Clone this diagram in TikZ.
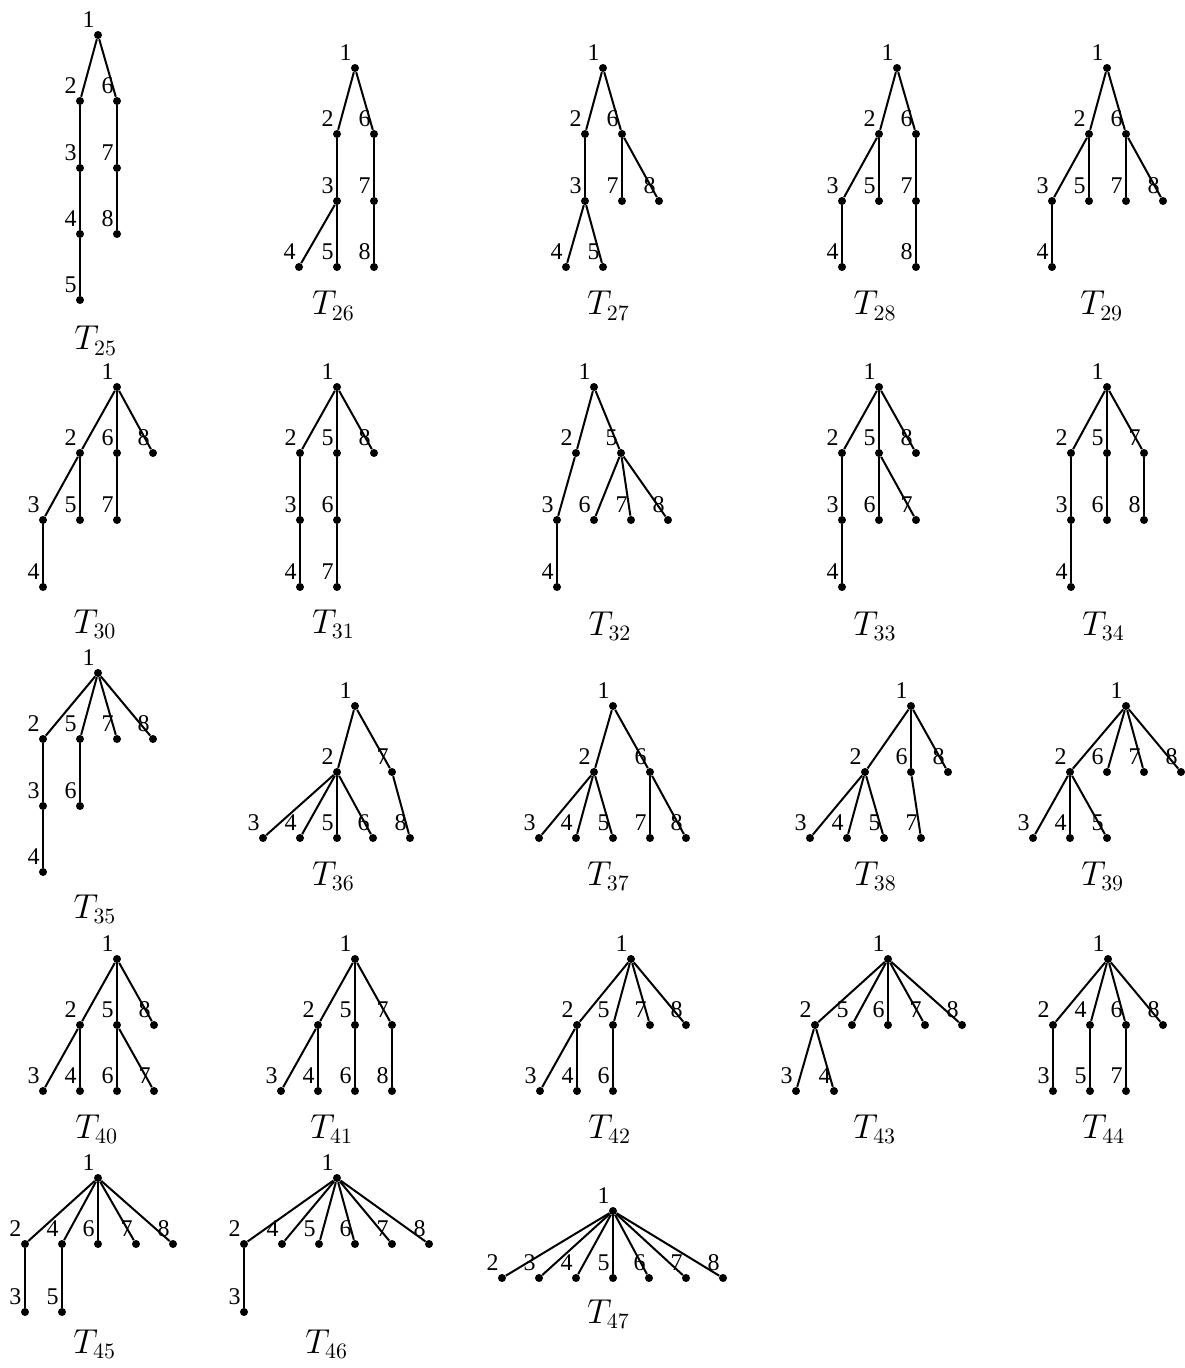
\documentclass[tikz,border=0pt]{standalone}
\usepackage{fontspec}
\setmainfont{Liberation Serif}
\tikzset{
  x=0.5pt, y=-0.5pt,
  dot/.style={circle, fill=black, inner sep=0pt, minimum size=4pt},
  lbl/.style={inner sep=0pt, font=\fontsize{12}{14}\selectfont},
  tlab/.style={inner sep=0pt, anchor=base west, font=\fontsize{16}{19}\selectfont},
  edge/.style={line width=1pt}
}
\newcommand\V[4]{\node[dot] (#1) at (#2,#3) {};
  \node[lbl] (#1l) at ([shift={(-9.5,-15.5)}]#1.center) {#4};}
\newcommand\E[2]{\draw[edge] (#1) -- (#2);}
\begin{document}
\begin{tikzpicture}
\useasboundingbox (0,0) rectangle (1184,1368);
% ---------- T25
\V{a1}{98}{35}{1}\V{a2}{80}{101}{2}\V{a6}{117}{101}{6}\V{a3}{80}{168}{3}
\V{a7}{117}{168}{7}\V{a4}{80}{234}{4}\V{a8}{117}{234}{8}\V{a5}{80}{300}{5}
\E{a1}{a2}\E{a1}{a6}\E{a2}{a3}\E{a3}{a4}\E{a4}{a5}\E{a6}{a7}\E{a7}{a8}
\node[tlab] (la) at (74,350) {$T_{25}$};
% ---------- T26
\V{b1}{355}{68}{1}\V{b2}{337}{134}{2}\V{b6}{374}{134}{6}\V{b3}{337}{201}{3}
\V{b7}{374}{201}{7}\V{b4}{299}{267}{4}\V{b5}{337}{267}{5}\V{b8}{374}{267}{8}
\E{b1}{b2}\E{b1}{b6}\E{b2}{b3}\E{b3}{b4}\E{b3}{b5}\E{b6}{b7}\E{b7}{b8}
\node[tlab] (lb) at (311.7,315) {$T_{26}$};
% ---------- T27
\V{c1}{603}{68}{1}\V{c2}{585}{134}{2}\V{c6}{622}{134}{6}\V{c3}{585}{201}{3}
\V{c7}{622}{201}{7}\V{c8}{659}{201}{8}\V{c4}{566}{267}{4}\V{c5}{603}{267}{5}
\E{c1}{c2}\E{c1}{c6}\E{c2}{c3}\E{c3}{c4}\E{c3}{c5}\E{c6}{c7}\E{c6}{c8}
\node[tlab] (lc) at (586.7,315) {$T_{27}$};
% ---------- T28
\V{d1}{897}{68}{1}\V{d2}{879}{134}{2}\V{d6}{916}{134}{6}\V{d3}{842}{201}{3}
\V{d5}{879}{201}{5}\V{d7}{916}{201}{7}\V{d4}{842}{267}{4}\V{d8}{916}{267}{8}
\E{d1}{d2}\E{d1}{d6}\E{d2}{d3}\E{d2}{d5}\E{d3}{d4}\E{d6}{d7}\E{d7}{d8}
\node[tlab] (ld) at (853.3,315) {$T_{28}$};
% ---------- T29
\V{e1}{1107}{68}{1}\V{e2}{1089}{134}{2}\V{e6}{1126}{134}{6}\V{e3}{1052}{201}{3}
\V{e5}{1089}{201}{5}\V{e7}{1126}{201}{7}\V{e8}{1163}{201}{8}\V{e4}{1052}{267}{4}
\E{e1}{e2}\E{e1}{e6}\E{e2}{e3}\E{e2}{e5}\E{e3}{e4}\E{e6}{e7}\E{e6}{e8}
\node[tlab] (le) at (1080,315) {$T_{29}$};
% ---------- T30
\V{f1}{117}{387}{1}\V{f2}{80}{453}{2}\V{f6}{117}{453}{6}\V{f8}{153}{453}{8}
\V{f3}{43}{520}{3}\V{f5}{80}{520}{5}\V{f7}{117}{520}{7}\V{f4}{43}{587}{4}
\E{f1}{f2}\E{f1}{f6}\E{f1}{f8}\E{f2}{f3}\E{f2}{f5}\E{f3}{f4}\E{f6}{f7}
\node[tlab] (lf) at (73.3,633) {$T_{30}$};
% ---------- T31
\V{g1}{337}{387}{1}\V{g2}{300}{453}{2}\V{g5}{337}{453}{5}\V{g8}{374}{453}{8}
\V{g3}{300}{520}{3}\V{g6}{337}{520}{6}\V{g4}{300}{587}{4}\V{g7}{337}{587}{7}
\E{g1}{g2}\E{g1}{g5}\E{g1}{g8}\E{g2}{g3}\E{g3}{g4}\E{g5}{g6}\E{g6}{g7}
\node[tlab] (lg) at (311.7,633) {$T_{31}$};
% ---------- T32
\V{h1}{594}{387}{1}\V{h2}{576}{453}{2}\V{h5}{621}{453}{5}\V{h3}{557}{520}{3}
\V{h6}{594}{520}{6}\V{h7}{631}{520}{7}\V{h8}{668}{520}{8}\V{h4}{557}{587}{4}
\E{h1}{h2}\E{h1}{h5}\E{h2}{h3}\E{h3}{h4}\E{h5}{h6}\E{h5}{h7}\E{h5}{h8}
\node[tlab] (lh) at (588.3,635) {$T_{32}$};
% ---------- T33
\V{i1}{879}{387}{1}\V{i2}{842}{453}{2}\V{i5}{879}{453}{5}\V{i8}{916}{453}{8}
\V{i3}{842}{520}{3}\V{i6}{879}{520}{6}\V{i7}{916}{520}{7}\V{i4}{842}{587}{4}
\E{i1}{i2}\E{i1}{i5}\E{i1}{i8}\E{i2}{i3}\E{i3}{i4}\E{i5}{i6}\E{i5}{i7}
\node[tlab] (li) at (853.3,635) {$T_{33}$};
% ---------- T34
\V{j1}{1107}{387}{1}\V{j2}{1071}{453}{2}\V{j5}{1107}{453}{5}\V{j7}{1144}{453}{7}
\V{j3}{1071}{520}{3}\V{j6}{1107}{520}{6}\V{j8}{1144}{520}{8}\V{j4}{1071}{587}{4}
\E{j1}{j2}\E{j1}{j5}\E{j1}{j7}\E{j2}{j3}\E{j3}{j4}\E{j5}{j6}\E{j7}{j8}
\node[tlab] (lj) at (1081.7,635) {$T_{34}$};
% ---------- T35
\V{k1}{98}{673}{1}\V{k2}{43}{739}{2}\V{k5}{80}{739}{5}\V{k7}{117}{739}{7}
\V{k8}{153}{739}{8}\V{k3}{43}{806}{3}\V{k6}{80}{806}{6}\V{k4}{43}{872}{4}
\E{k1}{k2}\E{k1}{k5}\E{k1}{k7}\E{k1}{k8}\E{k2}{k3}\E{k3}{k4}\E{k5}{k6}
\node[tlab] (lk) at (73.3,918) {$T_{35}$};
% ---------- T36
\V{l1}{355}{706}{1}\V{l2}{337}{772}{2}\V{l7}{392}{772}{7}\V{l3}{263}{838}{3}
\V{l4}{300}{838}{4}\V{l5}{337}{838}{5}\V{l6}{373}{838}{6}\V{l8}{410}{838}{8}
\E{l1}{l2}\E{l1}{l7}\E{l2}{l3}\E{l2}{l4}\E{l2}{l5}\E{l2}{l6}\E{l7}{l8}
\node[tlab] (ll) at (311.7,885) {$T_{36}$};
% ---------- T37
\V{m1}{613}{706}{1}\V{m2}{594}{772}{2}\V{m6}{650}{772}{6}\V{m3}{539}{838}{3}
\V{m4}{576}{838}{4}\V{m5}{613}{838}{5}\V{m7}{650}{838}{7}\V{m8}{686}{838}{8}
\E{m1}{m2}\E{m1}{m6}\E{m2}{m3}\E{m2}{m4}\E{m2}{m5}\E{m6}{m7}\E{m6}{m8}
\node[tlab] (lm) at (586.7,885) {$T_{37}$};
% ---------- T38
\V{n1}{911}{706}{1}\V{n2}{865}{772}{2}\V{n6}{911}{772}{6}\V{n8}{948}{772}{8}
\V{n3}{810}{838}{3}\V{n4}{847}{838}{4}\V{n5}{884}{838}{5}\V{n7}{921}{838}{7}
\E{n1}{n2}\E{n1}{n6}\E{n1}{n8}\E{n2}{n3}\E{n2}{n4}\E{n2}{n5}\E{n6}{n7}
\node[tlab] (ln) at (853.6,885) {$T_{38}$};
% ---------- T39
\V{o1}{1126}{706}{1}\V{o2}{1070}{772}{2}\V{o6}{1107}{772}{6}\V{o7}{1144}{772}{7}
\V{o8}{1181}{772}{8}\V{o3}{1033}{838}{3}\V{o4}{1070}{838}{4}\V{o5}{1107}{838}{5}
\E{o1}{o2}\E{o1}{o6}\E{o1}{o7}\E{o1}{o8}\E{o2}{o3}\E{o2}{o4}\E{o2}{o5}
\node[tlab] (lo) at (1081,885) {$T_{39}$};
% ---------- T40
\V{p1}{117}{959}{1}\V{p2}{80}{1025}{2}\V{p5}{117}{1025}{5}\V{p8}{154}{1025}{8}
\V{p3}{43}{1091}{3}\V{p4}{80}{1091}{4}\V{p6}{117}{1091}{6}\V{p7}{154}{1091}{7}
\E{p1}{p2}\E{p1}{p5}\E{p1}{p8}\E{p2}{p3}\E{p2}{p4}\E{p5}{p6}\E{p5}{p7}
\node[tlab] (lp) at (75,1138) {$T_{40}$};
% ---------- T41
\V{q1}{355}{959}{1}\V{q2}{318}{1025}{2}\V{q5}{355}{1025}{5}\V{q7}{392}{1025}{7}
\V{q3}{281}{1091}{3}\V{q4}{318}{1091}{4}\V{q6}{355}{1091}{6}\V{q8}{392}{1091}{8}
\E{q1}{q2}\E{q1}{q5}\E{q1}{q7}\E{q2}{q3}\E{q2}{q4}\E{q5}{q6}\E{q7}{q8}
\node[tlab] (lq) at (310,1138) {$T_{41}$};
% ---------- T42
\V{r1}{631}{959}{1}\V{r2}{577}{1025}{2}\V{r5}{613}{1025}{5}\V{r7}{650}{1025}{7}
\V{r8}{686}{1025}{8}\V{r3}{540}{1091}{3}\V{r4}{577}{1091}{4}\V{r6}{613}{1091}{6}
\E{r1}{r2}\E{r1}{r5}\E{r1}{r7}\E{r1}{r8}\E{r2}{r3}\E{r2}{r4}\E{r5}{r6}
\node[tlab] (lr) at (588,1138) {$T_{42}$};
% ---------- T43
\V{s1}{888}{959}{1}\V{s2}{815}{1025}{2}\V{s5}{852}{1025}{5}\V{s6}{888}{1025}{6}
\V{s7}{925}{1025}{7}\V{s8}{962}{1025}{8}\V{s3}{796}{1091}{3}\V{s4}{834}{1091}{4}
\E{s1}{s2}\E{s1}{s5}\E{s1}{s6}\E{s1}{s7}\E{s1}{s8}\E{s2}{s3}\E{s2}{s4}
\node[tlab] (ls) at (853,1138) {$T_{43}$};
% ---------- T44
\V{u1}{1108}{959}{1}\V{u2}{1053}{1025}{2}\V{u4}{1090}{1025}{4}\V{u6}{1126}{1025}{6}
\V{u8}{1163}{1025}{8}\V{u3}{1053}{1091}{3}\V{u5}{1090}{1091}{5}\V{u7}{1126}{1091}{7}
\E{u1}{u2}\E{u1}{u4}\E{u1}{u6}\E{u1}{u8}\E{u2}{u3}\E{u4}{u5}\E{u6}{u7}
\node[tlab] (lu) at (1082,1138) {$T_{44}$};
% ---------- T45
\V{v1}{98}{1178}{1}\V{v2}{25}{1244}{2}\V{v4}{62}{1244}{4}\V{v6}{98}{1244}{6}
\V{v7}{136}{1244}{7}\V{v8}{173}{1244}{8}\V{v3}{25}{1312}{3}\V{v5}{62}{1312}{5}
\E{v1}{v2}\E{v1}{v4}\E{v1}{v6}\E{v1}{v7}\E{v1}{v8}\E{v2}{v3}\E{v4}{v5}
\node[tlab] (lv) at (73,1353) {$T_{45}$};
% ---------- T46
\V{w1}{337}{1178}{1}\V{w2}{244}{1244}{2}\V{w4}{282}{1244}{4}\V{w5}{319}{1244}{5}
\V{w6}{355}{1244}{6}\V{w7}{392}{1244}{7}\V{w8}{429}{1244}{8}\V{w3}{244}{1312}{3}
\E{w1}{w2}\E{w1}{w4}\E{w1}{w5}\E{w1}{w6}\E{w1}{w7}\E{w1}{w8}\E{w2}{w3}
\node[tlab] (lw) at (305,1353) {$T_{46}$};
% ---------- T47
\V{z1}{613}{1211}{1}\V{z2}{502}{1278}{2}\V{z3}{539}{1278}{3}\V{z4}{576}{1278}{4}
\V{z5}{613}{1278}{5}\V{z6}{649}{1278}{6}\V{z7}{686}{1278}{7}\V{z8}{723}{1278}{8}
\E{z1}{z2}\E{z1}{z3}\E{z1}{z4}\E{z1}{z5}\E{z1}{z6}\E{z1}{z7}\E{z1}{z8}
\node[tlab] (lz) at (586.6,1323) {$T_{47}$};
\end{tikzpicture}
\end{document}
